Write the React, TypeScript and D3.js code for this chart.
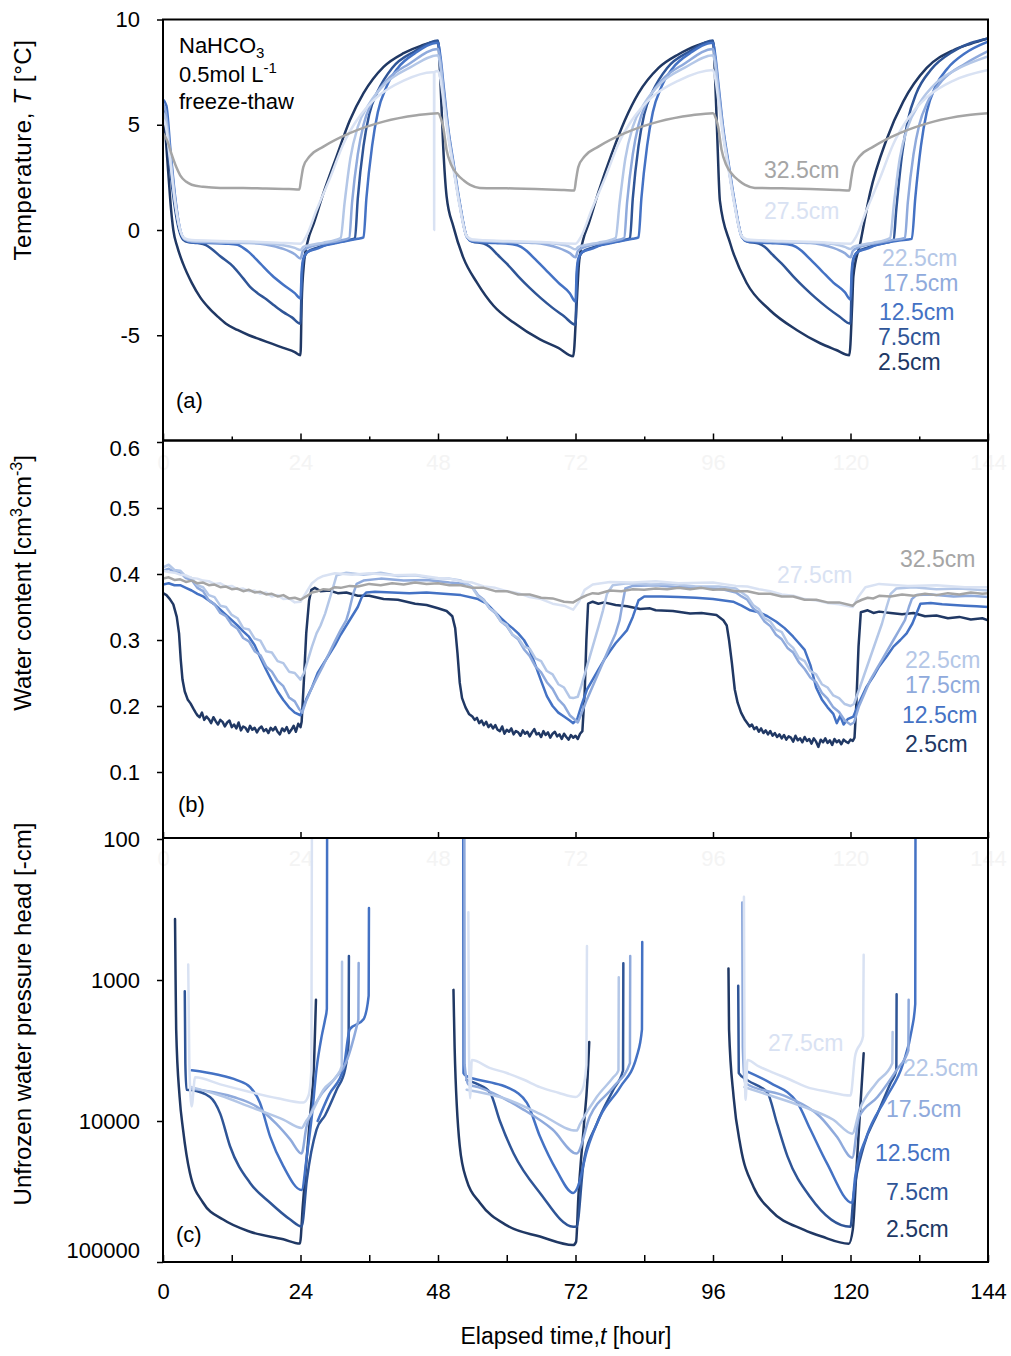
import React, { useEffect, useRef } from "react";
import * as d3 from "d3";

type Pt = [number, number];

const X_MAJOR = [0, 24, 48, 72, 96, 120, 144];
const X_ALL = [0, 12, 24, 36, 48, 60, 72, 84, 96, 108, 120, 132, 144];
const X_MINOR = [12, 36, 60, 84, 108, 132];
const T_TICKS = [10, 5, 0, -5];
const WC_TICKS = [0.6, 0.5, 0.4, 0.3, 0.2, 0.1];
const H_TICKS = [100, 1000, 10000, 100000];

const DEPTHS = ["2.5cm", "7.5cm", "12.5cm", "17.5cm", "22.5cm", "27.5cm", "32.5cm"];
const COLORS = ["#203864", "#2F5597", "#4472C4", "#8FAADC", "#B4C7E7", "#D9E2F3", "#A5A5A5"];

// (a) temperature [°C] vs elapsed time [h]
const temp25: Pt[] = [[0,5.5],[0.4,4.6],[0.9,2.8],[1.4,1.0],[1.8,0],[2.5,-0.8],[3.5,-1.6],[5,-2.5],[6.5,-3.2],[8,-3.7],[9.5,-4.1],[11,-4.45],[13,-4.75],[15,-5.0],[17,-5.2],[19,-5.4],[21,-5.6],[23,-5.8],[24,-5.95],[24.2,-3.5],[24.6,-1.6],[25.3,-0.5],[26.3,0.3],[28,1.75],[30.3,3.5],[32.6,5.2],[35,6.5],[38.5,7.75],[42,8.4],[45,8.75],[48,8.95],
  [48.4,7.2],[48.9,4.0],[49.5,1.6],[50.7,0.15],[52.4,-1.3],[54.8,-2.5],[57.7,-3.6],[61.2,-4.4],[65.8,-5.2],[69,-5.6],[71.6,-6.0],[72.2,-3.5],[72.6,-1.6],[73.3,-0.5],[74.3,0.3],[76,1.8],[78.3,3.6],[80.6,5.2],[83,6.5],[86.5,7.7],[90,8.35],[93,8.75],[96,8.95],
  [96.4,7.0],[96.8,4.0],[97.2,1.4],[99,-0.63],[101.9,-2.53],[105.9,-3.8],[110.6,-4.75],[114.7,-5.38],[117.5,-5.7],[119.8,-5.95],[120.3,-3.5],[120.5,-2.2],[121.7,-0.63],[123.4,1.74],[126.3,4.3],[129.2,6.1],[133.3,7.7],[138,8.55],[141,8.85],[144,9.1]];
const temp75: Pt[] = [[0,5.8],[0.5,5.2],[1.2,3.0],[2,1.2],[2.8,0],[3.5,-0.45],[4.5,-0.58],[6,-0.62],[7.5,-0.72],[8.5,-0.9],[10,-1.25],[12.3,-1.75],[14,-2.3],[15.2,-2.7],[16.5,-3.0],[18.1,-3.3],[19.5,-3.6],[21,-3.9],[22.5,-4.15],[24,-4.45],[24.2,-2.5],[24.5,-1.45],[25.2,-1.05],[26.8,-0.85],[28.5,-0.7],[30.3,-0.6],[32,-0.5],[33.5,-0.4],[34,1.5],[35,4.0],[36,5.5],[37.5,6.6],[40,7.7],[44,8.5],[48,9.0],
  [48.4,8.0],[49,6.4],[49.8,4.6],[50.7,3.0],[51.8,1.2],[53,-0.3],[54,-0.55],[56,-0.65],[57,-0.8],[58.5,-1.2],[60,-1.6],[62,-2.2],[64,-2.75],[66,-3.25],[68,-3.7],[70,-4.1],[72,-4.5],[72.2,-2.5],[72.5,-1.45],[73.2,-1.05],[74.8,-0.85],[76.5,-0.7],[78.3,-0.6],[80,-0.5],[81.5,-0.4],[82,1.5],[83,4.0],[84,5.5],[85.5,6.6],[88,7.7],[92,8.5],[96,9.0],
  [96.4,8.0],[97,6.4],[97.8,4.6],[98.7,3.0],[99.8,1.2],[101,-0.3],[102,-0.55],[104,-0.65],[105,-0.8],[106.5,-1.2],[108,-1.6],[110,-2.2],[112,-2.75],[114,-3.25],[116,-3.7],[118,-4.1],[120,-4.45],[120.2,-2.5],[120.5,-1.45],[121.2,-1.05],[122.8,-0.85],[124.5,-0.7],[126.3,-0.6],[127.5,-0.5],[128,1.0],[129,3.6],[130,5.2],[131.5,6.5],[134,7.6],[138,8.5],[144,9.1]];
const temp125: Pt[] = [[0,6.2],[0.6,5.9],[1.3,3.8],[2.2,1.4],[3,0],[3.8,-0.45],[5,-0.58],[8,-0.62],[11,-0.65],[13,-0.7],[14,-0.85],[15,-1.05],[17,-1.6],[19,-2.15],[21,-2.6],[23,-3.0],[24,-3.25],[24.2,-2.0],[24.5,-1.35],[25.2,-1.05],[26.8,-0.9],[28.5,-0.72],[30.3,-0.62],[32,-0.52],[34,-0.42],[35,-0.35],[35.5,1.5],[36.5,4.0],[37.5,5.6],[39,6.8],[41,7.7],[44,8.4],[48,8.9],
  [48.4,8.3],[49,6.8],[49.8,4.8],[50.7,3.2],[51.8,1.3],[53,-0.3],[54,-0.55],[58,-0.62],[61,-0.68],[62.5,-0.8],[63.5,-1.0],[65,-1.4],[67,-1.95],[69,-2.5],[71,-3.0],[72,-3.4],[72.2,-2.0],[72.5,-1.35],[73.2,-1.05],[74.8,-0.9],[76.5,-0.72],[78.3,-0.62],[80,-0.52],[82,-0.42],[83,-0.35],[83.5,1.5],[84.5,4.0],[85.5,5.6],[87,6.8],[89,7.7],[92,8.4],[96,8.9],
  [96.4,8.3],[97,6.8],[97.8,4.8],[98.7,3.2],[99.8,1.3],[101,-0.3],[102,-0.55],[106,-0.62],[109,-0.68],[110.5,-0.8],[111.5,-1.0],[113,-1.4],[115,-1.95],[117,-2.5],[119,-2.95],[120,-3.3],[120.2,-2.0],[120.5,-1.35],[121.2,-1.05],[122.8,-0.9],[124.5,-0.72],[126.3,-0.6],[128.5,-0.5],[130.7,-0.42],[131.3,1.5],[132.3,4.0],[133.3,5.6],[134.8,6.8],[137,7.7],[140,8.4],[144,8.95]];
const temp175: Pt[] = [[0,6.0],[0.5,5.6],[1.2,3.8],[2.1,1.5],[3,0],[3.8,-0.45],[5,-0.55],[10,-0.6],[15,-0.62],[17,-0.65],[19,-0.75],[21,-0.9],[23,-1.15],[24,-1.35],[24.4,-1.0],[25.2,-0.85],[27,-0.7],[29,-0.6],[31,-0.5],[32.5,-0.38],[33,1.3],[34,3.6],[35,5.0],[36.5,6.1],[39,7.1],[43,7.9],[48,8.6],
  [48.4,8.1],[49,6.6],[49.8,4.7],[50.7,3.1],[51.8,1.2],[53,-0.3],[54,-0.5],[60,-0.58],[65,-0.62],[67,-0.7],[69,-0.85],[71,-1.1],[72,-1.3],[72.4,-1.0],[73.2,-0.85],[75,-0.7],[77,-0.6],[79,-0.5],[80.5,-0.38],[81,1.3],[82,3.6],[83,5.0],[84.5,6.1],[87,7.1],[91,7.9],[96,8.6],
  [96.4,8.1],[97,6.6],[97.8,4.7],[98.7,3.1],[99.8,1.2],[101,-0.3],[102,-0.5],[108,-0.58],[113,-0.62],[115,-0.7],[117,-0.85],[119,-1.1],[120,-1.3],[120.4,-1.0],[121.2,-0.85],[123,-0.7],[125,-0.6],[127,-0.5],[129.5,-0.38],[130,1.3],[131,3.6],[132,5.0],[133.5,6.1],[136,7.1],[140,7.9],[144,8.5]];
const temp225: Pt[] = [[0,5.6],[0.5,5.2],[1.2,3.6],[2.1,1.4],[3,0],[3.8,-0.42],[5,-0.52],[10,-0.56],[15,-0.6],[19,-0.65],[21,-0.72],[23,-0.85],[24,-0.95],[24.5,-0.8],[26,-0.7],[28,-0.6],[30,-0.48],[31,-0.38],[31.7,1.3],[32.7,3.4],[34,4.9],[36,6.0],[39,7.0],[43,7.7],[48,8.3],
  [48.4,7.8],[49,6.3],[49.8,4.5],[50.7,3.0],[51.8,1.2],[53,-0.3],[54,-0.48],[60,-0.55],[66,-0.6],[69,-0.67],[71,-0.8],[72,-0.92],[72.5,-0.8],[74,-0.7],[76,-0.6],[78,-0.48],[79,-0.38],[79.7,1.3],[80.7,3.4],[82,4.9],[84,6.0],[87,7.0],[91,7.7],[96,8.3],
  [96.4,7.8],[97,6.3],[97.8,4.5],[98.7,3.0],[99.8,1.2],[101,-0.3],[102,-0.48],[108,-0.55],[114,-0.6],[117,-0.67],[119,-0.8],[120,-0.9],[120.5,-0.8],[122,-0.7],[124,-0.6],[126,-0.48],[126.9,-0.38],[127.6,1.3],[128.6,3.4],[130,4.9],[132,6.0],[135,7.0],[139,7.7],[144,8.25]];
const temp275: Pt[] = [[0,5.3],[0.5,4.9],[1.2,3.4],[2.1,1.3],[3,0],[3.8,-0.4],[5,-0.48],[10,-0.52],[15,-0.55],[20,-0.6],[24,-0.65],[25,-0.3],[26.8,0.95],[29.2,2.5],[31.5,4.1],[33.8,5.2],[37.3,6.3],[42,7.1],[47,7.5],[47.3,7.5],[47.33,0],[47.36,7.5],[48,7.55],
  [48.4,7.2],[49,6.0],[49.8,4.4],[50.7,2.9],[51.8,1.1],[53,-0.28],[54,-0.45],[60,-0.52],[66,-0.57],[72,-0.65],[73,-0.3],[74.8,0.95],[77.2,2.5],[79.5,4.1],[81.8,5.2],[85.3,6.3],[90,7.1],[96,7.6],
  [96.4,7.2],[97,6.0],[97.8,4.4],[98.7,2.9],[99.8,1.1],[101,-0.28],[102,-0.45],[108,-0.52],[114,-0.57],[120,-0.65],[121,-0.3],[122.8,0.95],[125.2,2.5],[127.5,4.1],[129.8,5.2],[133.3,6.3],[138,7.1],[144,7.6]];
const temp325: Pt[] = [[0,4.6],[0.8,4.2],[1.5,3.6],[2.3,3.0],[3,2.6],[4,2.3],[5,2.15],[7,2.05],[10,2.0],[14,2.0],[18,1.97],[22,1.95],[23.8,1.92],[24.1,2.4],[24.5,3.0],[25.6,3.5],[28,3.96],[32.6,4.6],[38.5,5.15],[44.3,5.45],[48,5.55],
  [48.5,5.3],[48.9,4.9],[49.5,3.8],[50.3,3.1],[51.2,2.7],[52.5,2.35],[53.6,2.14],[55.3,2.0],[60,1.98],[65,1.95],[70,1.9],[71.8,1.88],[72.1,2.4],[72.5,3.0],[73.6,3.5],[76,3.96],[80.6,4.6],[86.5,5.15],[92.3,5.45],[96,5.55],
  [96.5,5.3],[96.9,4.9],[97.5,3.8],[98.3,3.1],[99.2,2.7],[100.5,2.35],[101.6,2.14],[103.3,2.0],[108,1.98],[113,1.95],[118,1.9],[119.8,1.88],[120.1,2.4],[120.5,3.0],[121.6,3.5],[124,3.96],[128.6,4.6],[134.5,5.15],[140.3,5.45],[144,5.55]];

// (b) water content [cm3 cm-3]
const wc25: Pt[] = [[0,0.371],[0.6,0.368],[1.2,0.362],[1.8,0.354],[2.4,0.335],[2.8,0.31],[3.1,0.27],[3.4,0.24],[3.8,0.222],[4.3,0.21],[4.8,0.204],[5.3,0.196],[5.7,0.19],
  [6,0.186],[6.4,0.183],[6.8,0.19],[7.2,0.179],[7.6,0.184],[8,0.18],[8.4,0.174],[8.8,0.183],[9.2,0.177],[9.6,0.172],[10,0.179],[10.4,0.176],[10.8,0.169],[11.2,0.175],[11.6,0.178],[12,0.168],[12.4,0.172],[12.8,0.166],[13.2,0.175],[13.6,0.163],[14,0.169],[14.4,0.167],[14.8,0.161],[15.2,0.17],[15.6,0.164],[16,0.167],[16.4,0.16],[16.8,0.166],[17.2,0.169],[17.6,0.162],[18,0.165],[18.4,0.159],[18.8,0.167],[19.2,0.163],[19.6,0.168],[20,0.161],[20.4,0.157],[20.8,0.166],[21.2,0.162],[21.6,0.168],[22,0.159],[22.4,0.164],[22.8,0.17],[23.2,0.161],[23.6,0.173],[24,0.168],[24.2,0.176],
  [24.6,0.24],[25,0.31],[25.5,0.36],[25.9,0.376],[26.5,0.379],[27.5,0.374],[29,0.375],[30.5,0.371],[32,0.372],[34,0.367],[36,0.367],[38.5,0.362],[41,0.361],[44,0.355],[46,0.353],[48,0.348],[49.5,0.344],[50.5,0.336],[51,0.318],[51.4,0.28],[51.8,0.235],[52.2,0.212],[52.8,0.198],[53.4,0.188],
  [54,0.184],[54.4,0.179],[54.8,0.182],[55.2,0.174],[55.6,0.178],[56,0.171],[56.4,0.176],[56.8,0.168],[57.2,0.172],[57.6,0.166],[58,0.171],[58.4,0.164],[58.8,0.162],[59.2,0.169],[59.6,0.158],[60,0.164],[60.4,0.161],[60.8,0.166],[61.2,0.157],[61.6,0.162],[62,0.16],[62.4,0.155],[62.8,0.163],[63.2,0.158],[63.6,0.161],[64,0.154],[64.4,0.16],[64.8,0.165],[65.2,0.157],[65.6,0.159],[66,0.153],[66.4,0.162],[66.8,0.156],[67.2,0.16],[67.6,0.152],[68,0.158],[68.4,0.161],[68.8,0.154],[69.2,0.157],[69.6,0.15],[70,0.158],[70.4,0.153],[70.8,0.149],[71.2,0.156],[71.6,0.152],[72,0.155],[72.4,0.15],[72.8,0.158],[73.2,0.162],
  [73.6,0.22],[73.9,0.3],[74.2,0.355],[75,0.358],[76,0.355],[77,0.357],[79,0.353],[81,0.351],[83.3,0.347],[85,0.348],[86,0.345],[89,0.344],[92,0.34],[94,0.341],[96.6,0.338],[97.8,0.33],[98.4,0.322],[98.8,0.3],[99.3,0.265],[99.8,0.225],[100.3,0.205],[100.9,0.19],[101.5,0.18],
  [102,0.174],[102.4,0.169],[102.8,0.172],[103.2,0.165],[103.6,0.168],[104,0.161],[104.4,0.166],[104.8,0.159],[105.2,0.163],[105.6,0.157],[106,0.162],[106.4,0.155],[106.8,0.159],[107.2,0.153],[107.6,0.157],[108,0.151],[108.4,0.156],[108.8,0.149],[109.2,0.154],[109.6,0.152],[110,0.146],[110.4,0.155],[110.8,0.148],[111.2,0.151],[111.6,0.145],[112,0.153],[112.4,0.147],[112.8,0.15],[113.2,0.143],[113.6,0.151],[114,0.146],[114.4,0.138],[114.8,0.149],[115.2,0.145],[115.6,0.151],[116,0.144],[116.4,0.148],[116.8,0.141],[117.2,0.15],[117.6,0.145],[118,0.148],[118.4,0.142],[118.8,0.149],[119.2,0.146],[119.6,0.144],[120,0.149],[120.4,0.147],[120.7,0.152],
  [121,0.2],[121.4,0.29],[121.8,0.342],[123,0.345],[124,0.341],[125,0.343],[127,0.341],[129,0.339],[131,0.341],[133,0.336],[135,0.337],[137,0.333],[139,0.335],[141,0.331],[143,0.333],[144,0.33]];
const wc125: Pt[] = [[0,0.384],[1,0.386],[2,0.383],[3,0.383],[4,0.379],[5,0.375],[6,0.37],[7,0.366],[8,0.36],[9,0.354],[10,0.346],[11,0.338],[12,0.33],[13,0.322],[14,0.313],[15,0.305],[16,0.292],[17,0.273],[18,0.255],[19,0.238],[20,0.222],[21,0.209],[22,0.198],[23,0.19],[24,0.186],[25,0.21],[26,0.228],[27,0.25],[28,0.264],[29,0.278],[30,0.292],[31,0.308],[32,0.322],[33,0.336],[34,0.35],[34.7,0.365],[35.5,0.372],[37,0.373],[40,0.372],[43,0.371],[46,0.372],[49,0.37],[52,0.368],[55,0.362],[56.5,0.355],[58,0.342],[59,0.333],[60,0.325],[61,0.318],[62,0.31],[63,0.3],[64,0.285],[65,0.262],[66,0.238],[67,0.215],[68,0.2],[69,0.19],[70,0.184],[71,0.178],[71.6,0.174],[72.3,0.18],[73,0.2],[74,0.225],[75,0.24],[76,0.255],[77,0.27],[78,0.283],[79,0.295],[80,0.305],[81,0.315],[82,0.335],[83,0.36],[84,0.366],[87,0.366],[90,0.365],[93,0.364],[96,0.362],[99.5,0.358],[101,0.352],[102.5,0.345],[104,0.342],[105.5,0.336],[107,0.328],[108.5,0.318],[110,0.305],[111,0.295],[112,0.285],[113,0.262],[114,0.228],[115,0.21],[116,0.198],[117,0.188],[117.6,0.174],[118.2,0.185],[118.8,0.172],[119.5,0.18],[120.5,0.184],[121.5,0.205],[122.8,0.229],[124,0.245],[125,0.26],[126.3,0.275],[127.5,0.29],[128.7,0.3],[129.8,0.31],[130.8,0.325],[131.6,0.342],[132.2,0.355],[134,0.356],[136,0.354],[138,0.353],[140,0.352],[142,0.351],[144,0.35]];
const wc175: Pt[] = [[0,0.405],[1,0.408],[2,0.403],[3,0.402],[4,0.394],[5,0.391],[6,0.379],[7,0.374],[8,0.36],[9,0.354],[10,0.341],[11,0.336],[12,0.323],[13,0.317],[14,0.303],[15,0.298],[16,0.283],[17,0.277],[18,0.26],[19,0.252],[20,0.238],[21,0.23],[22,0.213],[23,0.207],[23.8,0.195],[24.3,0.19],[25,0.208],[26,0.228],[27,0.245],[28,0.262],[29,0.28],[30,0.298],[31,0.315],[32,0.33],[32.5,0.345],[33.2,0.37],[33.8,0.385],[35,0.39],[38,0.393],[42,0.39],[46,0.391],[50,0.387],[53,0.385],[54,0.38],[55,0.368],[56,0.361],[57,0.348],[58,0.341],[59,0.328],[60,0.321],[61,0.308],[62,0.301],[63,0.286],[64,0.276],[65,0.26],[66,0.251],[67,0.236],[68,0.226],[69,0.21],[70,0.201],[71,0.186],[71.8,0.18],[72.4,0.175],[73,0.188],[74,0.21],[75,0.23],[76,0.25],[77,0.27],[78,0.29],[79,0.31],[79.7,0.33],[80.2,0.355],[80.7,0.378],[82,0.382],[86,0.383],[90,0.38],[94,0.38],[98,0.376],[100,0.372],[101,0.366],[102,0.361],[103,0.348],[104,0.341],[105,0.328],[106,0.321],[107,0.308],[108,0.301],[109,0.288],[110,0.281],[111,0.266],[112,0.256],[113,0.243],[114,0.236],[115,0.22],[116,0.211],[117,0.198],[118,0.191],[119,0.178],[120,0.172],[120.6,0.175],[121.5,0.2],[122.5,0.22],[123.5,0.24],[124.5,0.255],[125.5,0.27],[126.5,0.285],[127.5,0.3],[128.5,0.315],[129.5,0.33],[130.2,0.35],[130.7,0.362],[131.5,0.368],[134,0.369],[138,0.366],[141,0.367],[144,0.365]];
const wc225: Pt[] = [[0,0.41],[1,0.414],[2,0.406],[3,0.405],[4,0.396],[5,0.394],[6,0.383],[7,0.38],[8,0.368],[9,0.365],[10,0.352],[11,0.35],[12,0.338],[13,0.333],[14,0.318],[15,0.316],[16,0.302],[17,0.299],[18,0.283],[19,0.281],[20,0.268],[21,0.265],[22,0.252],[23,0.25],[24,0.24],[24.6,0.25],[25.3,0.27],[26,0.29],[26.8,0.31],[27.5,0.322],[28.3,0.34],[29,0.36],[29.7,0.38],[30.3,0.398],[32,0.402],[35,0.399],[38,0.402],[41,0.397],[44,0.398],[47,0.394],[50,0.393],[52,0.39],[53,0.385],[54,0.379],[55,0.366],[56,0.36],[57,0.348],[58,0.342],[59,0.328],[60,0.323],[61,0.308],[62,0.303],[63,0.29],[64,0.287],[65,0.272],[66,0.268],[67,0.253],[68,0.248],[69,0.233],[70,0.228],[71,0.213],[71.6,0.212],[72.4,0.214],[73,0.23],[74,0.26],[75,0.29],[76,0.32],[76.8,0.345],[77.5,0.37],[78.5,0.383],[81,0.386],[85,0.384],[89,0.385],[93,0.381],[97,0.381],[100,0.378],[101,0.372],[102,0.366],[103,0.353],[104,0.347],[105,0.333],[106,0.328],[107,0.316],[108,0.312],[109,0.296],[110,0.288],[111,0.273],[112,0.268],[113,0.253],[114,0.248],[115,0.233],[116,0.228],[117,0.216],[118,0.212],[119,0.203],[120,0.2],[120.6,0.203],[121.5,0.225],[122.5,0.25],[123.5,0.275],[124.5,0.3],[125.5,0.325],[126.3,0.35],[127,0.37],[128,0.378],[131,0.38],[135,0.377],[139,0.378],[144,0.375]];
const wc275: Pt[] = [[0,0.405],[1,0.403],[2,0.402],[3,0.399],[4,0.398],[5,0.394],[6,0.393],[7,0.39],[8,0.389],[9,0.385],[10,0.386],[11,0.381],[12,0.382],[13,0.377],[14,0.378],[15,0.374],[16,0.375],[17,0.37],[18,0.372],[19,0.366],[20,0.368],[21,0.362],[22,0.363],[23,0.357],[24,0.358],[25,0.372],[26,0.386],[27,0.393],[28,0.397],[30,0.401],[33,0.399],[36,0.401],[40,0.398],[44,0.399],[48,0.394],[50,0.393],[52,0.389],[54,0.387],[56,0.381],[58,0.379],[60,0.374],[62,0.371],[64,0.365],[66,0.362],[68,0.355],[70,0.352],[71.6,0.346],[72.6,0.358],[73.6,0.376],[75,0.384],[78,0.388],[82,0.387],[86,0.389],[90,0.386],[96,0.387],[100,0.382],[102,0.381],[104,0.377],[106,0.374],[108,0.369],[110,0.367],[112,0.362],[114,0.36],[116,0.356],[118,0.354],[120.4,0.35],[121.4,0.366],[122.6,0.38],[125,0.385],[130,0.382],[135,0.383],[140,0.38],[144,0.38]];
const wc325: Pt[] = [[0,0.393],[1,0.395],[2,0.391],[3,0.392],[4,0.388],[5,0.39],[6,0.386],[7,0.387],[8,0.383],[9,0.384],[10,0.38],[11,0.381],[12,0.377],[13,0.378],[14,0.374],[15,0.376],[16,0.372],[17,0.373],[18,0.369],[19,0.37],[20,0.366],[21,0.368],[22,0.363],[23,0.364],[24,0.361],[25,0.366],[26,0.372],[27,0.374],[28,0.377],[29,0.376],[30,0.38],[31,0.379],[32.6,0.382],[34,0.381],[36,0.385],[38,0.383],[40,0.386],[42,0.384],[44,0.387],[46,0.385],[48,0.386],[50,0.383],[52,0.383],[54,0.379],[56,0.379],[58,0.374],[60,0.374],[62,0.369],[64,0.369],[66,0.364],[68,0.363],[70,0.358],[71.6,0.357],[73,0.364],[74,0.368],[75,0.371],[76,0.37],[78,0.375],[80,0.374],[82,0.377],[84,0.376],[86,0.378],[88,0.377],[90,0.379],[92,0.377],[94,0.379],[96,0.376],[98,0.377],[100,0.374],[102,0.374],[104,0.37],[106,0.37],[108,0.366],[110,0.366],[112,0.361],[114,0.361],[116,0.357],[118,0.357],[120.4,0.352],[121,0.357],[122,0.361],[123,0.364],[124,0.363],[125,0.367],[127,0.366],[129,0.369],[131,0.367],[133,0.37],[135,0.368],[137,0.371],[139,0.369],[141,0.372],[143,0.37],[144,0.371]];

// (c) unfrozen water pressure head [-cm], one segment per frozen period
const head25: Pt[][] = [
  [[2.1,370],[2.2,1000],[2.3,2240],[2.9,6760],[3.5,11500],[4.7,23400],[7,38000],[10.5,50000],[15.2,61000],[21,69000],[23.9,74000],[24.4,40000],[25,20000],[25.7,9100],[26.4,3500],[26.7,1380]],
  [[50.7,1175],[50.9,3000],[51.8,15100],[53,26300],[55.3,38000],[60,55000],[65.8,66000],[71.6,75800],[72.1,72000],[72.5,34700],[73.4,11500],[74.1,5000],[74.4,2750]],
  [[98.7,830],[98.8,2240],[99.6,6760],[100.8,15100],[103.1,29500],[106,42700],[111.8,58900],[115,66000],[119.7,74100],[120.4,58900],[121.1,20000],[121.8,7000],[122.3,3310]],
];
const head75: Pt[][] = [
  [[3.8,1200],[3.9,3890],[4.1,6000],[4.9,6030],[8.2,6760],[10,8900],[11.7,15100],[15.2,27500],[18.7,38000],[22.2,50000],[24.2,56000],[25.1,26300],[26.8,11500],[28.3,9100],[30.3,6000],[31.8,4270],[32.4,2750],[32.45,676]],
  [[53,5130],[55,5500],[57.1,6310],[58.8,10000],[61.2,17000],[65.8,32400],[71.6,56200],[72.2,56000],[73.4,20000],[75.7,10500],[78.6,6000],[80.3,4370],[80.35,760]],
  [[100.4,1100],[100.5,4570],[102,5130],[105.5,6310],[107.2,10500],[109,17800],[113,34700],[120,56200],[120.5,34700],[122.3,15100],[124.7,8900],[127,5370],[128,4370],[128.05,1260]],
];
const head125: Pt[][] = [
  [[5,4370],[9.4,4680],[12.9,5130],[15.2,5750],[16.9,7400],[18.7,12900],[21,20900],[24.2,30900],[25.1,17800],[26,9100],[26.8,4270],[27.7,2500],[28.3,1900],[28.6,1600],[28.65,60]],
  [[27,10000],[29,6500],[31.5,4270],[32.6,2240],[35,1900],[35.9,1290],[35.95,309]],
  [[52.4,60],[52.45,4570],[53,4800],[57,5300],[60,5750],[63.5,7400],[65.8,12900],[68.7,22400],[71.6,32400],[72.3,30000],[74,16200],[76.3,9300],[79.8,5750],[82.7,3470],[83.6,2240],[83.65,537]],
  [[101.5,4370],[106,5370],[110.7,7400],[113,11500],[115.9,20000],[120.3,38000],[120.8,25100],[122.8,12900],[126.3,6760],[129.2,3890],[130.7,2240],[131.3,1480],[131.35,60]],
];
const head175: Pt[][] = [
  [[5,5900],[12.3,6760],[16.4,7940],[19.8,10500],[22.2,13500],[24.2,17000],[25,11200],[27,7100],[30,5000],[32,3800],[33.8,2140],[34.1,1900],[34.15,759]],
  [[52.6,60],[52.65,4000],[53.3,5500],[55,5750],[62.9,8300],[68,11500],[72.2,17000],[74.5,9300],[78.6,5750],[81.5,3890],[81.55,676]],
  [[101.1,282],[101.2,3000],[101.6,5370],[109,6760],[114.7,9330],[117.6,12900],[120.3,18200],[121.5,9330],[124.7,6760],[128,4370],[130.1,3160],[130.15,1380]],
];
const head225: Pt[][] = [
  [[5,5750],[10,6600],[15.2,7940],[21,9770],[24.2,11200],[25,10000],[25.7,9100],[28,6000],[30.3,4800],[31.2,4070],[31.25,741]],
  [[53,6000],[60,7000],[65.8,8900],[72.2,11700],[72.8,10500],[75.7,6760],[78.6,4900],[79.5,4370],[79.55,955]],
  [[101.5,5750],[106,6600],[111.8,7940],[117,9800],[120.3,12300],[121.6,8300],[124.5,5370],[127.3,3890],[127.35,2340]],
];
const head275: Pt[][] = [
  [[4.4,776],[4.6,4000],[5,7900],[5.6,4900],[10,5500],[15,6200],[20,6900],[24.5,7400],[25.4,6600],[25.9,4300],[26,60]],
  [[53.3,331],[53.4,3000],[53.6,6900],[53.9,3700],[57,4200],[60,4570],[63,5100],[65.8,5750],[69,6300],[72,6760],[73.2,6000],[73.9,4000],[74,575]],
  [[101.4,257],[101.5,3000],[101.7,7080],[102,3700],[104,4100],[106.7,4570],[109.5,5100],[112.4,5750],[116,6200],[120,6600],[120.8,3470],[122.2,2500],[122.3,661]],
];

const tempSeries: [number, Pt[]][] = [[0, temp25], [1, temp75], [2, temp125], [3, temp175], [4, temp225], [5, temp275], [6, temp325]];
const wcSeries: [number, Pt[]][] = [[0, wc25], [2, wc125], [3, wc175], [4, wc225], [5, wc275], [6, wc325]];
const headSeries: [number, Pt[][]][] = [[0, head25], [1, head75], [2, head125], [3, head175], [4, head225], [5, head275]];

const FONT = "'Liberation Sans', Arial, sans-serif";

function App() {
  const svgRef = useRef<SVGSVGElement>(null);

  useEffect(() => {
    const svg = d3.select(svgRef.current);
    svg.selectAll("*").remove();

    const left = 163, right = 988;
    const aTop = 19.5, aBot = 440.5, bBot = 838, cBot = 1262;

    const x = d3.scaleLinear().domain([0, 144]).range([left, right]);
    const yT = d3.scaleLinear().domain([-10, 10]).range([aBot, aTop]);
    const yW = d3.scaleLinear().domain([0, 0.6]).range([bBot, 442]);
    const yH = d3.scaleLog().domain([100, 100000]).range([839, cBot]);

    const defs = svg.append("defs");
    const panels = [
      { id: "clipA", top: aTop, bot: aBot },
      { id: "clipB", top: aBot, bot: bBot },
      { id: "clipC", top: bBot, bot: cBot },
    ];
    panels.forEach((p) => {
      defs.append("clipPath").attr("id", p.id)
        .append("rect").attr("x", left).attr("y", p.top).attr("width", right - left).attr("height", p.bot - p.top);
    });

    const styleAxis = (g: any) => {
      g.select(".domain").remove();
      g.selectAll(".tick line").attr("stroke", "#000").attr("stroke-width", 1.5);
      g.selectAll(".tick text").attr("font-family", FONT).attr("font-size", 22).attr("fill", "#000");
    };

    // faint hidden tick labels at top of panels (b) and (c)
    [470, 866].forEach((yy) => {
      svg.append("g").attr("transform", `translate(0,${yy})`)
        .call(d3.axisBottom(x).tickValues(X_MAJOR).tickSize(0).tickPadding(0).tickFormat((d) => String(d)))
        .call(styleAxis)
        .selectAll(".tick text").attr("fill", "#F4F4F4").attr("dy", "0");
    });

    const smooth = (y: any) => d3.line<Pt>().x((d) => x(d[0])).y((d) => y(d[1])).curve(d3.curveMonotoneX);
    const straight = (y: any) => d3.line<Pt>().x((d) => x(d[0])).y((d) => y(d[1]));
    const strokeLine = (g: any, d: string | null, c: string) =>
      g.append("path").attr("d", d).attr("fill", "none").attr("stroke", c)
        .attr("stroke-width", 2.5).attr("stroke-linejoin", "round").attr("stroke-linecap", "round");

    const gA = svg.append("g").attr("clip-path", "url(#clipA)");
    tempSeries.forEach(([i, data]) => strokeLine(gA, smooth(yT)(data), COLORS[i]));

    const gB = svg.append("g").attr("clip-path", "url(#clipB)");
    wcSeries.forEach(([i, data]) => strokeLine(gB, straight(yW)(data), COLORS[i]));

    const gC = svg.append("g").attr("clip-path", "url(#clipC)");
    headSeries.forEach(([i, segs]) => segs.forEach((seg) => strokeLine(gC, smooth(yH)(seg), COLORS[i])));

    // frames
    panels.forEach((p) => {
      svg.append("rect").attr("x", left).attr("y", p.top).attr("width", right - left).attr("height", p.bot - p.top)
        .attr("fill", "none").attr("stroke", "#000").attr("stroke-width", 2);
    });

    // inner x ticks on panel boundaries
    svg.append("g").attr("transform", `translate(0,${aBot})`)
      .call(d3.axisBottom(x).tickValues(X_MAJOR).tickSize(-7).tickFormat(() => "")).call(styleAxis);
    svg.append("g").attr("transform", `translate(0,${aBot})`)
      .call(d3.axisBottom(x).tickValues(X_MINOR).tickSize(-4).tickFormat(() => "")).call(styleAxis);
    svg.append("g").attr("transform", `translate(0,${bBot})`)
      .call(d3.axisBottom(x).tickValues(X_MAJOR).tickSize(-6).tickFormat(() => "")).call(styleAxis);
    svg.append("g").attr("transform", `translate(0,${cBot})`)
      .call(d3.axisBottom(x).tickValues(X_ALL).tickSize(-7).tickPadding(21)
        .tickFormat((d) => (Number(d) % 24 === 0 ? String(d) : ""))).call(styleAxis);

    // y axes
    svg.append("g").attr("transform", `translate(${left},0)`)
      .call(d3.axisLeft(yT).tickValues(T_TICKS).tickSize(6).tickPadding(17).tickFormat((d) => String(d))).call(styleAxis);
    const gWy = svg.append("g").attr("transform", `translate(${left},0)`)
      .call(d3.axisLeft(yW).tickValues(WC_TICKS).tickSize(6).tickPadding(17).tickFormat((d) => Number(d).toFixed(1))).call(styleAxis);
    gWy.selectAll(".tick text").filter((d: any) => d === 0.6).attr("transform", "translate(0,6)");
    const gHy = svg.append("g").attr("transform", `translate(${left},0)`)
      .call(d3.axisLeft(yH).tickValues(H_TICKS).tickSize(6).tickPadding(17).tickFormat((d) => String(d))).call(styleAxis);
    gHy.selectAll(".tick text").filter((d: any) => d === 100000).attr("transform", "translate(0,-12)");

    // depth labels
    const labels: [number, number, number][] = [
      [6, 764, 178], [5, 764, 219], [4, 882, 266], [3, 883, 291], [2, 879, 320], [1, 878, 345], [0, 878, 370],
      [6, 900, 567], [5, 777, 583], [4, 905, 668], [3, 905, 693], [2, 902, 723], [0, 905, 752],
      [5, 768, 1051], [4, 903, 1076], [3, 886, 1117], [2, 875, 1161], [1, 886, 1200], [0, 886, 1237],
    ];
    labels.forEach(([i, lx, ly]) => {
      svg.append("text").attr("x", lx).attr("y", ly).attr("font-family", FONT).attr("font-size", 23)
        .attr("fill", COLORS[i]).text(DEPTHS[i]);
    });

    const txt = (tx: number, ty: number) =>
      svg.append("text").attr("x", tx).attr("y", ty).attr("font-family", FONT).attr("font-size", 22).attr("fill", "#000");

    // annotations
    const t1 = txt(179, 53);
    t1.append("tspan").text("NaHCO");
    t1.append("tspan").attr("font-size", 15).attr("dy", 5).text("3");
    const t2 = txt(179, 82);
    t2.append("tspan").text("0.5mol L");
    t2.append("tspan").attr("font-size", 15).attr("dy", -9).text("-1");
    txt(179, 109).text("freeze-thaw");
    txt(176, 408).text("(a)");
    txt(178, 812).text("(b)");
    txt(176, 1242).text("(c)");

    // axis titles
    const xt = svg.append("text").attr("x", 566).attr("y", 1344).attr("text-anchor", "middle")
      .attr("font-family", FONT).attr("font-size", 23).attr("fill", "#000");
    xt.append("tspan").text("Elapsed time,");
    xt.append("tspan").attr("font-style", "italic").text("t");
    xt.append("tspan").text(" [hour]");

    const ytitle = (cy: number) =>
      svg.append("text").attr("transform", `translate(31,${cy}) rotate(-90)`).attr("text-anchor", "middle")
        .attr("font-family", FONT).attr("font-size", 24).attr("fill", "#000");
    const ya = ytitle(150).attr("letter-spacing", 0.6);
    ya.append("tspan").text("Temperature, ");
    ya.append("tspan").attr("font-style", "italic").text("T");
    ya.append("tspan").text(" [°C]");
    const yb = ytitle(583);
    yb.append("tspan").text("Water content [cm");
    yb.append("tspan").attr("font-size", 16).attr("dy", -9).text("3");
    yb.append("tspan").attr("dy", 9).text("cm");
    yb.append("tspan").attr("font-size", 16).attr("dy", -9).text("-3");
    yb.append("tspan").attr("dy", 9).text("]");
    ytitle(1014).text("Unfrozen water pressure head [-cm]");
  }, []);

  return (
    <svg ref={svgRef} width={1011} height={1356}
      style={{ position: "absolute", left: 0, top: 0, background: "#fff", display: "block" }} />
  );
}

export default App;
